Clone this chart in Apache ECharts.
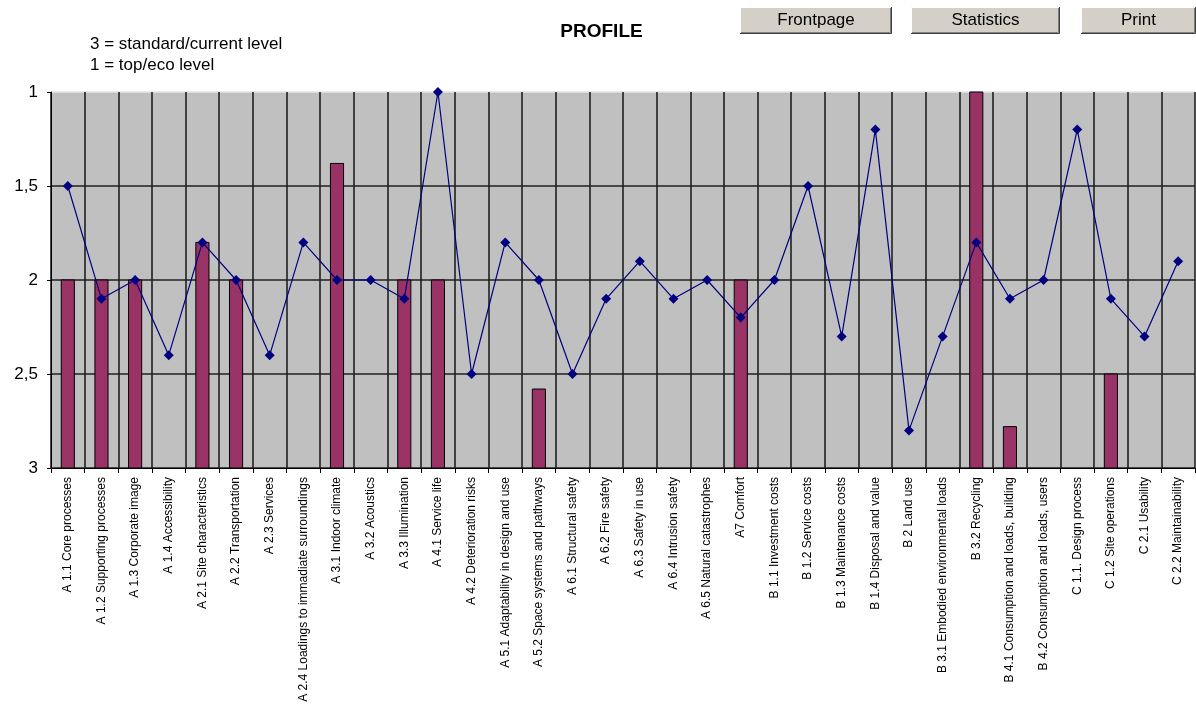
<!DOCTYPE html>
<html>
<head>
<meta charset="utf-8">
<title>PROFILE</title>
<script src="https://cdn.jsdelivr.net/npm/echarts@6/dist/echarts.min.js"></script>
<style>
  html, body { margin: 0; padding: 0; background: #ffffff; }
  #chart { width: 1196px; height: 709px; }
</style>
</head>
<body>
<div id="chart"></div>
<script>
// Assessment criteria along the horizontal axis
const categories = [
  'A 1.1 Core processes',
  'A 1.2 Supporting processes',
  'A 1.3 Corporate image',
  'A 1.4 Accessibility',
  'A 2.1 Site characteristics',
  'A 2.2 Transportation',
  'A 2.3 Services',
  'A 2.4 Loadings to immadiate surroundings',
  'A 3.1 Indoor climate',
  'A 3.2 Acoustics',
  'A 3.3 Illumination',
  'A 4.1 Service life',
  'A 4.2 Deterioration risks',
  'A 5.1 Adaptability in design and use',
  'A 5.2 Space systems and pathways',
  'A 6.1 Structural safety',
  'A 6.2 Fire safety',
  'A 6.3 Safety in use',
  'A 6.4 Intrusion safety',
  'A 6.5 Natural catastrophes',
  'A7 Comfort',
  'B 1.1 Investment costs',
  'B 1.2 Service costs',
  'B 1.3 Maintenance costs',
  'B 1.4 Disposal and value',
  'B 2 Land use',
  'B 3.1 Embodied environmental loads',
  'B 3.2 Recycling',
  'B 4.1 Consumption and loads, building',
  'B 4.2 Consumption and loads, users',
  'C 1.1. Design process',
  'C 1.2 Site operations',
  'C 2.1 Usability',
  'C 2.2 Maintainability'
];

// Column values (null = no column, stays at the standard level)
const barValues = [
  2, 2, 2, null, 1.8, 2, null, null, 1.38, null, 2, 2, null, null, 2.58, null,
  null, null, null, null, 2, null, null, null, null, null, null, 1, 2.78, null,
  null, 2.5, null, null
];

// Profile line values
const lineValues = [
  1.5, 2.1, 2, 2.4, 1.8, 2, 2.4, 1.8, 2, 2, 2.1, 1, 2.5, 1.8, 2, 2.5,
  2.1, 1.9, 2.1, 2, 2.2, 2, 1.5, 2.3, 1.2, 2.8, 2.3, 1.8, 2.1, 2, 1.2, 2.1,
  2.3, 1.9
];

// Scale: 1 = top/eco level, 3 = standard/current level
const yTicks = [1, 1.5, 2, 2.5, 3];
const yTickLabels = ['1', '1,5', '2', '2,5', '3'];
const BASE_LEVEL = 3;

const FONT = '"Liberation Sans", Arial, sans-serif';

function button(x, y, w, h, label) {
  return {
    type: 'group',
    x: x, y: y,
    children: [
      { type: 'rect', shape: { x: 0, y: 0, width: w, height: h }, style: { fill: '#d4d0c8' } },
      { type: 'polyline', shape: { points: [[0.5, h - 1], [0.5, 0.5], [w - 1, 0.5]] }, style: { stroke: '#ffffff', lineWidth: 1, fill: null } },
      { type: 'polyline', shape: { points: [[1, h - 1.5], [w - 1.5, h - 1.5], [w - 1.5, 1]] }, style: { stroke: '#808080', lineWidth: 1, fill: null } },
      { type: 'polyline', shape: { points: [[0, h - 0.5], [w - 0.5, h - 0.5], [w - 0.5, 0]] }, style: { stroke: '#404040', lineWidth: 1, fill: null } },
      { type: 'text', x: w / 2, y: h / 2 - 0.5, style: { text: label, font: '17px ' + FONT, fill: '#000', align: 'center', verticalAlign: 'middle' } }
    ]
  };
}

const chart = echarts.init(document.getElementById('chart'), null, { renderer: 'canvas' });

chart.setOption({
  animation: false,
  backgroundColor: '#ffffff',
  grid: {
    left: 51, right: 1, top: 92, bottom: 241,
    show: true, backgroundColor: '#c0c0c0', borderWidth: 0
  },
  xAxis: {
    type: 'category',
    data: categories,
    boundaryGap: true,
    axisLine: { show: true, onZero: false, lineStyle: { color: '#000', width: 1 } },
    axisTick: { show: true, interval: 0, length: 5, lineStyle: { color: '#000' } },
    axisLabel: {
      interval: 0, rotate: 90, margin: 9,
      color: '#000', fontFamily: FONT, fontSize: 12
    },
    splitLine: { show: true, interval: 0, lineStyle: { color: '#202020', width: 1.6 } }
  },
  yAxis: {
    type: 'value',
    min: 1, max: 3, interval: 0.5,
    inverse: true,
    axisLine: { show: true, lineStyle: { color: '#000', width: 1 } },
    axisTick: { show: true, length: 4, lineStyle: { color: '#000' } },
    axisLabel: {
      margin: 13, color: '#000', fontFamily: FONT, fontSize: 17,
      formatter: v => {
        const i = yTicks.findIndex(t => Math.abs(t - v) < 1e-9);
        return i >= 0 ? yTickLabels[i] : '';
      }
    },
    splitLine: {
      show: true,
      lineStyle: { color: ['#e4e4e4', '#202020', '#202020', '#202020', '#202020'], width: 1.6 }
    }
  },
  series: [
    {
      name: 'Columns',
      type: 'custom',
      z: 2,
      data: barValues.map((v, i) => [i, v]).filter(d => d[1] != null),
      encode: { x: 0, y: 1 },
      renderItem: (params, api) => {
        const top = api.coord([api.value(0), api.value(1)]);
        const base = api.coord([api.value(0), BASE_LEVEL]);
        const w = api.size([1, 0])[0] * 0.39;
        return {
          type: 'rect',
          shape: { x: top[0] - w / 2, y: top[1], width: w, height: base[1] - top[1] },
          style: { fill: '#993366', stroke: '#000000', lineWidth: 1 }
        };
      }
    },
    {
      name: 'Profile',
      type: 'line',
      z: 3,
      data: lineValues,
      symbol: 'diamond',
      symbolSize: 10,
      showAllSymbol: true,
      lineStyle: { color: '#000080', width: 1.2 },
      itemStyle: { color: '#000080', borderWidth: 0 }
    }
  ],
  graphic: [
    { type: 'text', x: 601.5, y: 31.5, style: { text: 'PROFILE', font: 'bold 19px ' + FONT, fill: '#000', align: 'center', verticalAlign: 'middle' } },
    { type: 'text', x: 90, y: 44, style: { text: '3 = standard/current level', font: '17px ' + FONT, fill: '#000', align: 'left', verticalAlign: 'middle' } },
    { type: 'text', x: 90, y: 65, style: { text: '1 = top/eco level', font: '17px ' + FONT, fill: '#000', align: 'left', verticalAlign: 'middle' } },
    button(740, 7, 152, 27, 'Frontpage'),
    button(911, 7, 149, 27, 'Statistics'),
    button(1081, 7, 115, 27, 'Print')
  ]
});
</script>
</body>
</html>
